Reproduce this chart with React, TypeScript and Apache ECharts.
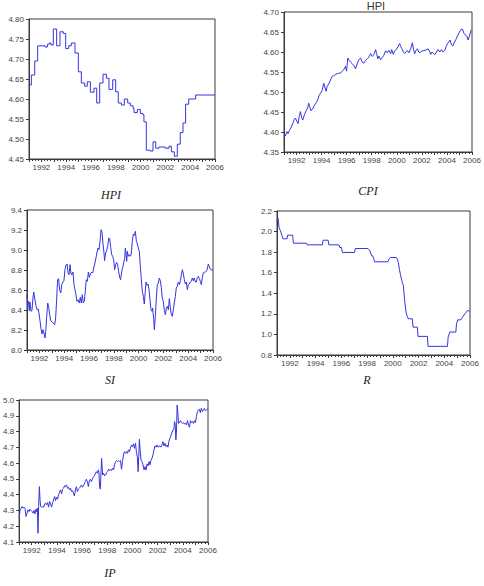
import React, { useEffect, useRef } from "react";
import * as echarts from "echarts";

// ---------- data (decimal year, value) ----------
const yearLabels = ["1992", "1994", "1996", "1998", "2000", "2002", "2004", "2006"];
const panelTitles = ["HPI", "CPI", "SI", "R", "IP"];
const topCaption = "HPI";

const hpiData: [number, number][] = [
  [1991.0, 4.635], [1991.19, 4.66], [1991.46, 4.695], [1991.7, 4.733], [1992.29, 4.73], [1992.48, 4.737],
  [1992.64, 4.74], [1992.77, 4.735], [1992.96, 4.775], [1993.23, 4.733], [1993.5, 4.768], [1993.77, 4.764],
  [1993.96, 4.726], [1994.2, 4.733], [1994.41, 4.74], [1994.71, 4.715], [1994.98, 4.668], [1995.22, 4.64],
  [1995.49, 4.632], [1995.7, 4.643], [1995.95, 4.617], [1996.24, 4.627], [1996.46, 4.59], [1996.7, 4.64],
  [1996.97, 4.662], [1997.24, 4.652], [1997.45, 4.624], [1997.75, 4.648], [1997.99, 4.618], [1998.2, 4.59],
  [1998.45, 4.585], [1998.69, 4.6], [1998.96, 4.59], [1999.17, 4.583], [1999.39, 4.577], [1999.47, 4.566],
  [1999.74, 4.574], [1999.98, 4.564], [2000.19, 4.56], [2000.27, 4.543], [2000.46, 4.472], [2000.76, 4.47],
  [2001.0, 4.493], [2001.22, 4.477], [2001.48, 4.48], [2001.99, 4.477], [2002.29, 4.482], [2002.48, 4.468],
  [2002.72, 4.457], [2002.96, 4.487], [2003.2, 4.516], [2003.42, 4.54], [2003.63, 4.587], [2003.88, 4.6],
  [2004.44, 4.61], [2006.0, 4.61],
];

const cpiData: [number, number][] = [
  [1991.0, 4.388], [1991.11, 4.39], [1991.24, 4.401], [1991.32, 4.396], [1991.43, 4.404], [1991.56, 4.411],
  [1991.69, 4.421], [1991.83, 4.432], [1991.91, 4.435], [1992.04, 4.426], [1992.12, 4.421], [1992.23, 4.441],
  [1992.31, 4.451], [1992.41, 4.436], [1992.49, 4.43], [1992.63, 4.443], [1992.76, 4.453], [1992.89, 4.46],
  [1992.97, 4.472], [1993.05, 4.463], [1993.16, 4.453], [1993.32, 4.46], [1993.45, 4.468], [1993.59, 4.474],
  [1993.69, 4.48], [1993.8, 4.491], [1993.91, 4.497], [1994.04, 4.504], [1994.17, 4.522], [1994.28, 4.51],
  [1994.36, 4.502], [1994.44, 4.514], [1994.57, 4.52], [1994.71, 4.53], [1994.84, 4.539], [1994.97, 4.541],
  [1995.11, 4.544], [1995.24, 4.546], [1995.37, 4.547], [1995.51, 4.547], [1995.64, 4.552], [1995.77, 4.556],
  [1995.91, 4.564], [1995.99, 4.552], [1996.09, 4.585], [1996.2, 4.579], [1996.31, 4.575], [1996.44, 4.571],
  [1996.57, 4.566], [1996.71, 4.558], [1996.84, 4.571], [1996.97, 4.581], [1997.11, 4.585], [1997.24, 4.575],
  [1997.37, 4.572], [1997.51, 4.579], [1997.64, 4.583], [1997.77, 4.587], [1997.91, 4.596], [1998.04, 4.589],
  [1998.17, 4.593], [1998.31, 4.606], [1998.39, 4.596], [1998.49, 4.583], [1998.57, 4.59], [1998.71, 4.581],
  [1998.84, 4.586], [1998.97, 4.592], [1999.11, 4.603], [1999.24, 4.598], [1999.37, 4.604], [1999.51, 4.596],
  [1999.59, 4.606], [1999.72, 4.594], [1999.83, 4.603], [1999.96, 4.606], [2000.09, 4.613], [2000.23, 4.621],
  [2000.31, 4.614], [2000.41, 4.608], [2000.52, 4.6], [2000.63, 4.596], [2000.73, 4.6], [2000.84, 4.604],
  [2000.97, 4.598], [2001.11, 4.608], [2001.24, 4.623], [2001.35, 4.604], [2001.43, 4.596], [2001.53, 4.604],
  [2001.64, 4.608], [2001.75, 4.6], [2001.85, 4.598], [2001.99, 4.603], [2002.12, 4.603], [2002.25, 4.604],
  [2002.39, 4.606], [2002.49, 4.608], [2002.6, 4.603], [2002.71, 4.594], [2002.81, 4.6], [2002.92, 4.596],
  [2003.03, 4.593], [2003.16, 4.6], [2003.29, 4.606], [2003.43, 4.6], [2003.56, 4.606], [2003.69, 4.6],
  [2003.83, 4.604], [2003.93, 4.613], [2004.04, 4.621], [2004.15, 4.625], [2004.25, 4.63], [2004.36, 4.618],
  [2004.47, 4.615], [2004.57, 4.623], [2004.71, 4.631], [2004.84, 4.64], [2004.97, 4.648], [2005.11, 4.656],
  [2005.24, 4.657], [2005.37, 4.646], [2005.48, 4.642], [2005.59, 4.64], [2005.69, 4.63], [2005.8, 4.64],
  [2005.91, 4.653], [2006.0, 4.656],
];

const siData: [number, number][] = [
  [1991.0, 8.553], [1991.05, 8.42], [1991.13, 8.487], [1991.19, 8.393], [1991.24, 8.48], [1991.32, 8.387],
  [1991.4, 8.393], [1991.48, 8.52], [1991.54, 8.58], [1991.62, 8.52], [1991.73, 8.437], [1991.81, 8.403],
  [1991.91, 8.41], [1992.02, 8.32], [1992.13, 8.213], [1992.21, 8.16], [1992.29, 8.203], [1992.37, 8.17],
  [1992.45, 8.12], [1992.51, 8.187], [1992.59, 8.337], [1992.67, 8.47], [1992.75, 8.427], [1992.83, 8.353],
  [1992.91, 8.293], [1993.02, 8.28], [1993.12, 8.27], [1993.23, 8.253], [1993.31, 8.32], [1993.39, 8.503],
  [1993.47, 8.703], [1993.55, 8.713], [1993.63, 8.603], [1993.72, 8.57], [1993.8, 8.653], [1993.9, 8.68],
  [1993.98, 8.693], [1994.06, 8.803], [1994.15, 8.853], [1994.23, 8.86], [1994.31, 8.77], [1994.39, 8.753],
  [1994.47, 8.853], [1994.55, 8.76], [1994.63, 8.753], [1994.71, 8.78], [1994.79, 8.653], [1994.87, 8.603],
  [1994.95, 8.553], [1995.03, 8.487], [1995.11, 8.503], [1995.22, 8.47], [1995.3, 8.527], [1995.38, 8.47],
  [1995.46, 8.553], [1995.54, 8.47], [1995.62, 8.487], [1995.7, 8.587], [1995.78, 8.703], [1995.87, 8.687],
  [1995.95, 8.78], [1996.03, 8.727], [1996.11, 8.76], [1996.22, 8.78], [1996.3, 8.77], [1996.38, 8.82],
  [1996.48, 8.87], [1996.56, 8.92], [1996.65, 8.98], [1996.73, 9.02], [1996.81, 9.003], [1996.89, 9.087],
  [1996.97, 9.203], [1997.05, 9.18], [1997.13, 9.06], [1997.21, 8.97], [1997.26, 8.893], [1997.34, 8.97],
  [1997.42, 8.993], [1997.51, 9.037], [1997.59, 9.12], [1997.67, 9.113], [1997.75, 9.027], [1997.83, 8.953],
  [1997.91, 8.937], [1997.99, 8.903], [1998.07, 8.803], [1998.15, 8.853], [1998.23, 8.877], [1998.31, 8.853],
  [1998.39, 8.787], [1998.47, 8.727], [1998.55, 8.703], [1998.63, 8.78], [1998.72, 8.827], [1998.8, 8.877],
  [1998.88, 8.913], [1998.93, 9.02], [1998.98, 8.97], [1999.04, 8.887], [1999.09, 8.987], [1999.17, 8.937],
  [1999.25, 8.953], [1999.33, 8.937], [1999.41, 8.96], [1999.49, 9.087], [1999.58, 9.16], [1999.66, 9.147],
  [1999.74, 9.187], [1999.82, 9.087], [1999.9, 9.06], [1999.98, 9.02], [2000.06, 8.987], [2000.14, 8.837],
  [2000.22, 8.703], [2000.3, 8.587], [2000.38, 8.537], [2000.46, 8.46], [2000.54, 8.587], [2000.6, 8.68],
  [2000.68, 8.647], [2000.76, 8.66], [2000.84, 8.603], [2000.92, 8.503], [2001.0, 8.403], [2001.08, 8.387],
  [2001.13, 8.42], [2001.22, 8.303], [2001.27, 8.203], [2001.35, 8.337], [2001.43, 8.52], [2001.51, 8.653],
  [2001.59, 8.67], [2001.67, 8.72], [2001.75, 8.693], [2001.83, 8.627], [2001.91, 8.52], [2001.99, 8.487],
  [2002.08, 8.393], [2002.16, 8.353], [2002.24, 8.42], [2002.32, 8.437], [2002.4, 8.403], [2002.48, 8.513],
  [2002.56, 8.42], [2002.64, 8.353], [2002.72, 8.337], [2002.8, 8.403], [2002.88, 8.47], [2002.96, 8.537],
  [2003.04, 8.62], [2003.12, 8.637], [2003.2, 8.68], [2003.29, 8.653], [2003.37, 8.693], [2003.45, 8.753],
  [2003.53, 8.803], [2003.61, 8.76], [2003.69, 8.703], [2003.77, 8.66], [2003.85, 8.68], [2003.93, 8.603],
  [2004.01, 8.653], [2004.09, 8.66], [2004.17, 8.68], [2004.25, 8.687], [2004.33, 8.72], [2004.41, 8.693],
  [2004.49, 8.72], [2004.58, 8.68], [2004.66, 8.68], [2004.74, 8.727], [2004.82, 8.737], [2004.9, 8.713],
  [2004.98, 8.687], [2005.06, 8.653], [2005.14, 8.727], [2005.22, 8.77], [2005.3, 8.78], [2005.38, 8.78],
  [2005.46, 8.787], [2005.54, 8.807], [2005.62, 8.86], [2005.7, 8.837], [2005.78, 8.807], [2005.89, 8.803],
  [2006.0, 8.793],
];

const rData: [number, number][] = [
  [1991.0, 2.1], [1991.08, 2.13], [1991.16, 2.04], [1991.26, 2.01], [1991.39, 1.96], [1991.47, 1.93],
  [1991.78, 1.93], [1991.83, 1.965], [1992.22, 1.965], [1992.27, 1.887], [1993.29, 1.887], [1993.34, 1.871],
  [1994.53, 1.871], [1994.58, 1.916], [1994.97, 1.916], [1995.03, 1.871], [1995.81, 1.871], [1995.88, 1.845],
  [1996.01, 1.845], [1996.09, 1.797], [1997.03, 1.797], [1997.08, 1.835], [1998.06, 1.835], [1998.22, 1.813],
  [1998.35, 1.765], [1998.43, 1.765], [1998.51, 1.742], [1998.58, 1.706], [1999.62, 1.706], [1999.7, 1.732],
  [1999.83, 1.748], [2000.27, 1.748], [2000.35, 1.732], [2000.43, 1.7], [2000.51, 1.635], [2000.61, 1.571],
  [2000.74, 1.506], [2000.82, 1.474], [2000.92, 1.329], [2001.03, 1.216], [2001.13, 1.174], [2001.21, 1.152],
  [2001.52, 1.152], [2001.57, 1.071], [2001.91, 1.071], [2001.96, 0.981], [2002.69, 0.981], [2002.74, 0.884],
  [2004.25, 0.884], [2004.3, 0.974], [2004.43, 1.023], [2004.9, 1.023], [2004.95, 1.103], [2005.05, 1.142],
  [2005.29, 1.142], [2005.42, 1.168], [2005.6, 1.2], [2005.81, 1.232], [2005.99, 1.226],
];

const ipData: [number, number][] = [
  [1991.0, 4.251], [1991.08, 4.304], [1991.16, 4.314], [1991.24, 4.325], [1991.32, 4.314], [1991.39, 4.321],
  [1991.47, 4.314], [1991.55, 4.262], [1991.63, 4.283], [1991.71, 4.304], [1991.79, 4.293], [1991.87, 4.308],
  [1991.95, 4.3], [1992.03, 4.293], [1992.11, 4.283], [1992.18, 4.3], [1992.26, 4.278], [1992.34, 4.308],
  [1992.39, 4.293], [1992.45, 4.314], [1992.5, 4.156], [1992.55, 4.325], [1992.61, 4.451], [1992.66, 4.367],
  [1992.71, 4.325], [1992.79, 4.321], [1992.87, 4.325], [1992.95, 4.321], [1993.03, 4.342], [1993.11, 4.346],
  [1993.18, 4.335], [1993.26, 4.35], [1993.34, 4.321], [1993.42, 4.357], [1993.5, 4.342], [1993.58, 4.321],
  [1993.66, 4.35], [1993.74, 4.367], [1993.82, 4.388], [1993.89, 4.363], [1993.97, 4.384], [1994.05, 4.371],
  [1994.13, 4.399], [1994.21, 4.414], [1994.29, 4.43], [1994.37, 4.405], [1994.45, 4.435], [1994.53, 4.441],
  [1994.61, 4.456], [1994.68, 4.451], [1994.76, 4.462], [1994.84, 4.441], [1994.92, 4.447], [1995.0, 4.43],
  [1995.08, 4.441], [1995.16, 4.42], [1995.24, 4.426], [1995.32, 4.409], [1995.39, 4.392], [1995.47, 4.43],
  [1995.55, 4.451], [1995.63, 4.42], [1995.71, 4.435], [1995.79, 4.441], [1995.87, 4.451], [1995.95, 4.462],
  [1996.03, 4.447], [1996.11, 4.456], [1996.18, 4.468], [1996.26, 4.483], [1996.34, 4.498], [1996.42, 4.483],
  [1996.5, 4.451], [1996.58, 4.489], [1996.66, 4.498], [1996.74, 4.483], [1996.82, 4.498], [1996.89, 4.511],
  [1996.97, 4.519], [1997.05, 4.532], [1997.13, 4.546], [1997.21, 4.536], [1997.29, 4.557], [1997.34, 4.54],
  [1997.39, 4.451], [1997.45, 4.435], [1997.55, 4.63], [1997.63, 4.525], [1997.71, 4.536], [1997.79, 4.519],
  [1997.87, 4.525], [1997.95, 4.54], [1998.03, 4.546], [1998.11, 4.561], [1998.18, 4.553], [1998.26, 4.561],
  [1998.34, 4.553], [1998.42, 4.568], [1998.5, 4.557], [1998.58, 4.589], [1998.66, 4.61], [1998.74, 4.616],
  [1998.82, 4.61], [1998.89, 4.616], [1998.97, 4.61], [1999.05, 4.616], [1999.13, 4.561], [1999.21, 4.61],
  [1999.29, 4.652], [1999.37, 4.673], [1999.45, 4.662], [1999.53, 4.673], [1999.61, 4.662], [1999.68, 4.684],
  [1999.76, 4.673], [1999.84, 4.694], [1999.92, 4.715], [2000.0, 4.705], [2000.08, 4.722], [2000.16, 4.694],
  [2000.24, 4.726], [2000.32, 4.667], [2000.39, 4.641], [2000.45, 4.546], [2000.5, 4.641], [2000.55, 4.751],
  [2000.61, 4.684], [2000.68, 4.62], [2000.76, 4.61], [2000.84, 4.589], [2000.92, 4.557], [2001.0, 4.578],
  [2001.08, 4.557], [2001.16, 4.595], [2001.24, 4.582], [2001.32, 4.61], [2001.39, 4.589], [2001.47, 4.616],
  [2001.55, 4.631], [2001.63, 4.652], [2001.71, 4.684], [2001.79, 4.709], [2001.87, 4.701], [2001.95, 4.715],
  [2002.03, 4.701], [2002.11, 4.705], [2002.18, 4.709], [2002.26, 4.701], [2002.34, 4.715], [2002.42, 4.736],
  [2002.5, 4.709], [2002.58, 4.726], [2002.66, 4.705], [2002.74, 4.715], [2002.82, 4.701], [2002.89, 4.736],
  [2002.97, 4.757], [2003.05, 4.772], [2003.13, 4.793], [2003.21, 4.81], [2003.29, 4.814], [2003.34, 4.863],
  [2003.39, 4.852], [2003.45, 4.747], [2003.5, 4.81], [2003.55, 4.968], [2003.61, 4.916], [2003.66, 4.852],
  [2003.74, 4.857], [2003.82, 4.869], [2003.89, 4.857], [2003.97, 4.852], [2004.05, 4.857], [2004.13, 4.848],
  [2004.21, 4.852], [2004.29, 4.842], [2004.37, 4.869], [2004.45, 4.842], [2004.53, 4.827], [2004.61, 4.869],
  [2004.68, 4.857], [2004.76, 4.863], [2004.84, 4.852], [2004.92, 4.869], [2005.0, 4.857], [2005.08, 4.895],
  [2005.16, 4.926], [2005.24, 4.937], [2005.32, 4.941], [2005.39, 4.92], [2005.47, 4.947], [2005.55, 4.926],
  [2005.63, 4.937], [2005.71, 4.947], [2005.79, 4.932], [2005.87, 4.937], [2005.95, 4.941], [2006.0, 4.947],
];

// ---------- layout ----------
const LINE = "#3434e0";
const AXIS = "#3a3a3a";
const LABEL = "#444";
const FONT = "Liberation Sans, Arial, sans-serif";

type Panel = {
  data: [number, number][];
  grid: { left: number; top: number; width: number; height: number };
  ymin: number; ymax: number; yint: number; dec: number; step?: "end";
  title: string; tx: number; ty: number;
};

const panels: Panel[] = [
  { data: hpiData, grid: { left: 29, top: 19, width: 186, height: 140 }, ymin: 4.45, ymax: 4.8, yint: 0.05, dec: 2, step: "end", title: panelTitles[0], tx: 111, ty: 195 },
  { data: cpiData, grid: { left: 284, top: 12, width: 188, height: 140 }, ymin: 4.35, ymax: 4.7, yint: 0.05, dec: 2, title: panelTitles[1], tx: 368, ty: 191 },
  { data: siData, grid: { left: 27, top: 210, width: 186, height: 140 }, ymin: 8.0, ymax: 9.4, yint: 0.2, dec: 1, title: panelTitles[2], tx: 110, ty: 380 },
  { data: rData, grid: { left: 277, top: 211, width: 193, height: 144 }, ymin: 0.8, ymax: 2.2, yint: 0.2, dec: 1, title: panelTitles[3], tx: 367, ty: 380 },
  { data: ipData, grid: { left: 18, top: 400, width: 190, height: 142 }, ymin: 4.1, ymax: 5.0, yint: 0.1, dec: 1, title: panelTitles[4], tx: 110, ty: 573 },
];

export default function App() {
  const ref = useRef<HTMLDivElement>(null);
  useEffect(() => {
    if (!ref.current) return;
    const chart = echarts.init(ref.current, undefined, { renderer: "svg" });
    const option: any = {
      animation: false,
      backgroundColor: "#fff",
      grid: panels.map((p) => ({
        ...p.grid,
        show: true,
        borderColor: AXIS,
        borderWidth: 1,
        backgroundColor: "transparent",
      })),
      xAxis: panels.map((p, i) => ({
        type: "value",
        gridIndex: i,
        min: 1991,
        max: 2006,
        interval: 1,
        splitLine: { show: false },
        axisLine: { show: true, lineStyle: { color: AXIS, width: 1 } },
        axisTick: { show: true, length: 3, lineStyle: { color: AXIS } },
        minorTick: { show: true, splitNumber: 4, length: 2, lineStyle: { color: AXIS } },
        axisLabel: {
          show: true,
          showMinLabel: true,
          showMaxLabel: true,
          margin: 4,
          fontSize: 8,
          fontFamily: FONT,
          color: LABEL,
          formatter: (v: number) => (yearLabels.includes(String(Math.round(v))) ? String(Math.round(v)) : ""),
        },
      })),
      yAxis: panels.map((p, i) => ({
        type: "value",
        gridIndex: i,
        min: p.ymin,
        max: p.ymax,
        interval: p.yint,
        splitLine: { show: false },
        axisLine: { show: true, lineStyle: { color: AXIS, width: 1 } },
        axisTick: { show: true, length: 3, lineStyle: { color: AXIS } },
        axisLabel: {
          margin: 5,
          fontSize: 8,
          fontFamily: FONT,
          color: LABEL,
          formatter: (v: number) => v.toFixed(p.dec),
        },
      })),
      series: panels.map((p, i) => ({
        type: "line",
        xAxisIndex: i,
        yAxisIndex: i,
        data: p.data,
        step: p.step || false,
        showSymbol: false,
        symbol: "none",
        lineStyle: { color: LINE, width: 1 },
        silent: true,
      })),
      graphic: [
        ...panels.map((p) => ({
          type: "text",
          x: p.tx,
          y: p.ty,
          style: {
            text: p.title,
            font: "italic 12px 'Liberation Serif', 'Times New Roman', serif",
            fill: "#222",
            textAlign: "center",
            textVerticalAlign: "middle",
          },
        })),
        {
          type: "text",
          x: 376,
          y: 6,
          style: {
            text: topCaption,
            font: "11px 'Liberation Sans', Arial, sans-serif",
            fill: "#333",
            textAlign: "center",
            textVerticalAlign: "middle",
          },
        },
      ],
    };
    chart.setOption(option);
    return () => chart.dispose();
  }, []);
  return <div ref={ref} style={{ position: "absolute", left: 0, top: 0, width: 484, height: 586 }} />;
}
